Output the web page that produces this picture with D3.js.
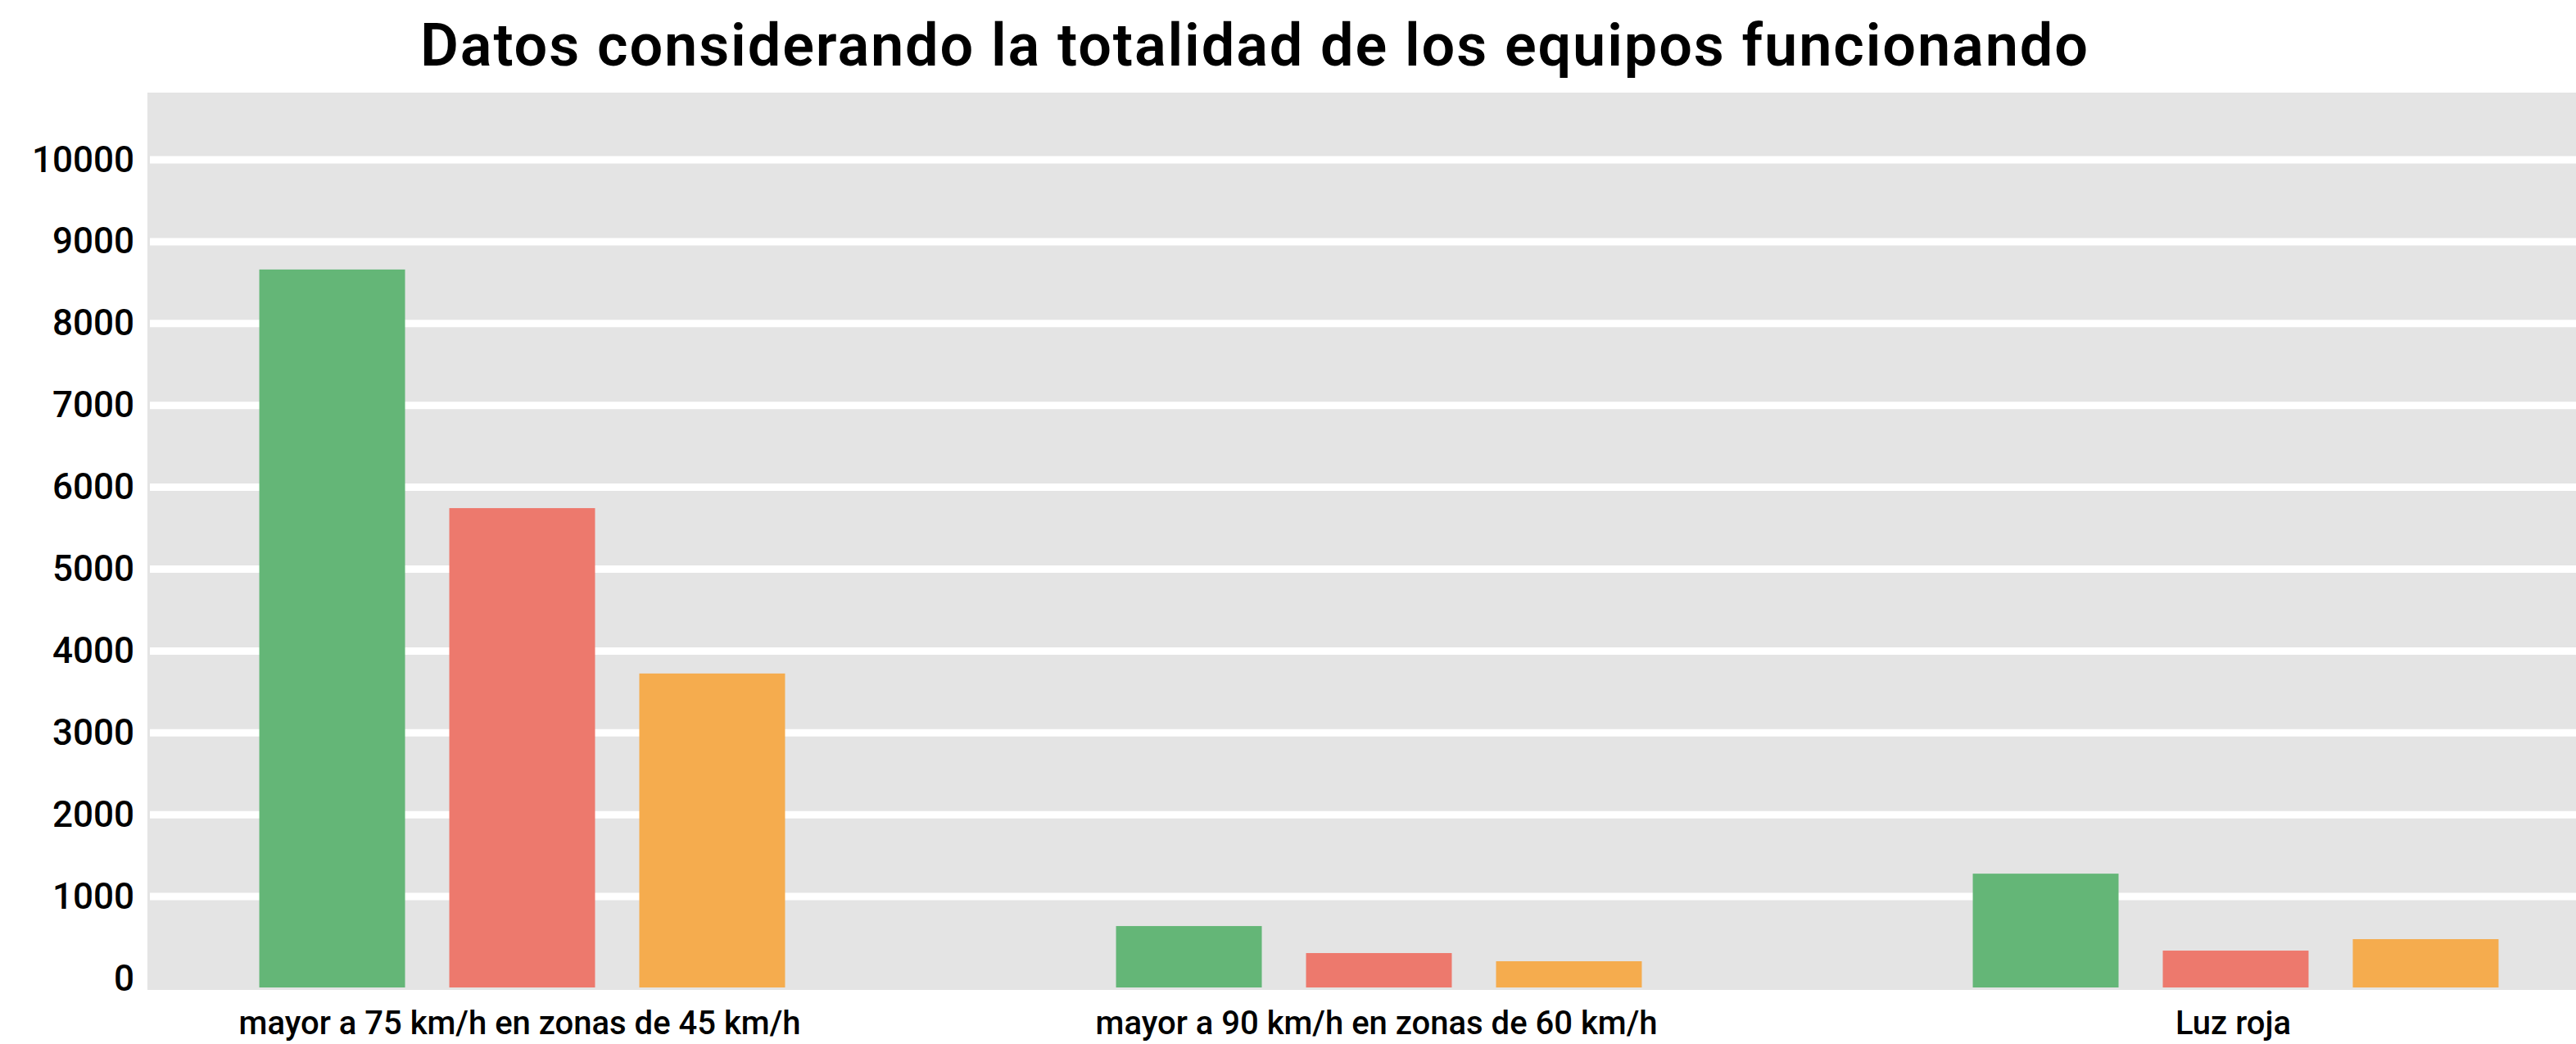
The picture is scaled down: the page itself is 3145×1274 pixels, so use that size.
<!DOCTYPE html>
<html>
<head>
<meta charset="utf-8">
<script src="https://cdn.jsdelivr.net/npm/d3@7"></script>
<style>
  html, body { margin: 0; padding: 0; background: #ffffff; }
  svg { display: block; }
  text { font-family: Roboto, "Noto Sans", sans-serif; fill: #000; }
</style>
</head>
<body>
<svg id="chart" width="3145" height="1274"></svg>
<script>
// ---- data ----
const title = "Datos considerando la totalidad de los equipos funcionando";
const categories = [
  "mayor a 75 km/h en zonas de 45 km/h",
  "mayor a 90 km/h en zonas de 60 km/h",
  "Luz roja"
];
const series = ["s1", "s2", "s3"];
const seriesColors = ["#64B677", "#ED796D", "#F5AC4E"];
const valuesS1 = [8660, 640, 1280];
const valuesS2 = [5745, 310, 340];
const valuesS3 = [3725, 210, 480];
const yTicks = [0, 1000, 2000, 3000, 4000, 5000, 6000, 7000, 8000, 9000, 10000];

// ---- layout ----
const W = 3145, H = 1274;
const panel = { left: 180, right: 3145, top: 113, bottom: 1208 };
const svg = d3.select("#chart");

const y = d3.scaleLinear().domain([0, 10000]).range([1194, 195]);
const x0 = d3.scaleBand().domain(categories).range([114.5, 3252.5]).padding(0);
const x1 = d3.scaleBand().domain(series).range([0, x0.bandwidth()])
  .paddingInner(0.2328).paddingOuter(0.871);
const color = d3.scaleOrdinal().domain(series).range(seriesColors);

const table = categories.map((c, i) => ({
  cat: c,
  vals: [valuesS1[i], valuesS2[i], valuesS3[i]].map((v, j) => ({ key: series[j], v }))
}));

// panel background
svg.append("rect")
  .attr("x", panel.left).attr("y", panel.top)
  .attr("width", panel.right - panel.left).attr("height", panel.bottom - panel.top)
  .attr("fill", "#E4E4E4");

// gridlines
svg.append("g").selectAll("line").data(yTicks.filter(d => d > 0)).join("line")
  .attr("x1", panel.left + 3).attr("x2", panel.right)
  .attr("y1", d => y(d)).attr("y2", d => y(d))
  .attr("stroke", "#ffffff").attr("stroke-width", 9);

// bars
const baseOffset = 11;
const g = svg.append("g").selectAll("g").data(table).join("g")
  .attr("transform", d => `translate(${x0(d.cat)},0)`);
g.selectAll("rect").data(d => d.vals).join("rect")
  .attr("x", d => x1(d.key))
  .attr("width", x1.bandwidth())
  .attr("y", d => y(d.v))
  .attr("height", d => y(0) - y(d.v) + baseOffset)
  .attr("fill", d => color(d.key));

// y axis labels
const yAxis = d3.axisLeft(y).tickValues(yTicks).tickSize(0).tickPadding(0).tickFormat(d3.format("d"));
const ya = svg.append("g").attr("transform", "translate(164,0)").call(yAxis);
ya.select(".domain").remove();
ya.selectAll("text")
  .attr("font-family", "Roboto, sans-serif")
  .attr("font-weight", 500)
  .attr("font-size", 44)
  .attr("fill", "#000")
  .attr("dy", "0.32em");

// x axis labels
const xAxis = d3.axisBottom(x0).tickSize(0).tickPadding(0);
const xa = svg.append("g").attr("transform", "translate(-3,1262)").call(xAxis);
xa.select(".domain").remove();
xa.selectAll("text")
  .attr("font-family", "Roboto, sans-serif")
  .attr("font-weight", 500)
  .attr("font-size", 40)
  .attr("fill", "#000")
  .attr("dy", 0)
  .attr("y", 0);

// title
svg.append("text")
  .attr("x", 1532).attr("y", 80)
  .attr("text-anchor", "middle")
  .attr("font-family", "Roboto, sans-serif")
  .attr("font-weight", 600)
  .attr("font-size", 72)
  .attr("letter-spacing", 2)
  .attr("textLength", 2038)
  .attr("lengthAdjust", "spacing")
  .text(title);
</script>
</body>
</html>
